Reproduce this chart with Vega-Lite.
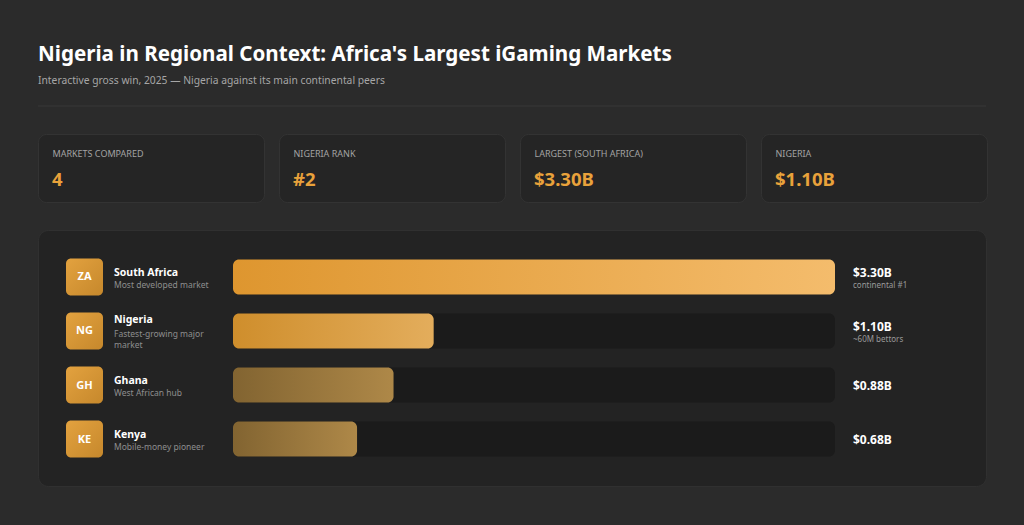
{
  "$schema": "https://vega.github.io/schema/vega-lite/v6.json",
  "background": "#2b2b2b",
  "padding": {"left": 37, "right": 38, "top": 45, "bottom": 38},
  "title": {
    "text": "Nigeria in Regional Context: Africa's Largest iGaming Markets",
    "subtitle": "Interactive gross win, 2025 — Nigeria against its main continental peers",
    "anchor": "start",
    "frame": "group",
    "font": "Noto Sans",
    "fontSize": 20.6,
    "fontWeight": "bold",
    "color": "#ffffff",
    "subtitleFont": "Noto Sans",
    "subtitleFontSize": 10.3,
    "subtitleColor": "#a6a6a6",
    "subtitlePadding": 10,
    "offset": 19
  },
  "config": {
    "view": {"stroke": null},
    "text": {"font": "Noto Sans"}
  },
  "datasets": {
    "kpis": [
      {"order": 1, "metric": "MARKETS COMPARED", "value": "4"},
      {"order": 2, "metric": "NIGERIA RANK", "value": "#2"},
      {"order": 3, "metric": "LARGEST (SOUTH AFRICA)", "value": "$3.30B"},
      {"order": 4, "metric": "NIGERIA", "value": "$1.10B"}
    ],
    "markets": [
      {"code": "ZA", "country": "South Africa", "desc": "Most developed market", "value": 3.30, "label": "$3.30B", "note": "continental #1"},
      {"code": "NG", "country": "Nigeria", "desc": "Fastest-growing major\nmarket", "value": 1.10, "label": "$1.10B", "note": "~60M bettors"},
      {"code": "GH", "country": "Ghana", "desc": "West African hub", "value": 0.88, "label": "$0.88B", "note": ""},
      {"code": "KE", "country": "Kenya", "desc": "Mobile-money pioneer", "value": 0.68, "label": "$0.68B", "note": ""}
    ]
  },
  "spacing": 26,
  "vconcat": [
    {
      "width": 948,
      "height": 1,
      "data": {"values": [{"v": 0}]},
      "mark": {"type": "rule", "color": "#393939", "strokeWidth": 1},
      "encoding": {
        "y": {"field": "v", "type": "quantitative", "scale": {"domain": [0, 1]}, "axis": null}
      }
    },
    {
      "spacing": 13,
      "hconcat": [
        {
          "data": {"name": "kpis"},
          "transform": [{"filter": "datum.order === 1"}],
          "width": 226, "height": 68,
          "view": {"fill": "#252525", "stroke": "#333333", "cornerRadius": 8},
          "layer": [
            {"mark": {"type": "text", "align": "left", "baseline": "alphabetic", "dx": -98.5, "dy": -11, "fontSize": 9, "color": "#a3a3a3"}, "encoding": {"text": {"field": "metric", "type": "nominal"}}},
            {"mark": {"type": "text", "align": "left", "baseline": "alphabetic", "dx": -99, "dy": 17.5, "fontSize": 18.5, "fontWeight": "bold", "color": "#e9a23b"}, "encoding": {"text": {"field": "value", "type": "nominal"}}}
          ]
        },
        {
          "data": {"name": "kpis"},
          "transform": [{"filter": "datum.order === 2"}],
          "width": 226, "height": 68,
          "view": {"fill": "#252525", "stroke": "#333333", "cornerRadius": 8},
          "layer": [
            {"mark": {"type": "text", "align": "left", "baseline": "alphabetic", "dx": -98.5, "dy": -11, "fontSize": 9, "color": "#a3a3a3"}, "encoding": {"text": {"field": "metric", "type": "nominal"}}},
            {"mark": {"type": "text", "align": "left", "baseline": "alphabetic", "dx": -99, "dy": 17.5, "fontSize": 18.5, "fontWeight": "bold", "color": "#e9a23b"}, "encoding": {"text": {"field": "value", "type": "nominal"}}}
          ]
        },
        {
          "data": {"name": "kpis"},
          "transform": [{"filter": "datum.order === 3"}],
          "width": 226, "height": 68,
          "view": {"fill": "#252525", "stroke": "#333333", "cornerRadius": 8},
          "layer": [
            {"mark": {"type": "text", "align": "left", "baseline": "alphabetic", "dx": -98.5, "dy": -11, "fontSize": 9, "color": "#a3a3a3"}, "encoding": {"text": {"field": "metric", "type": "nominal"}}},
            {"mark": {"type": "text", "align": "left", "baseline": "alphabetic", "dx": -99, "dy": 17.5, "fontSize": 18.5, "fontWeight": "bold", "color": "#e9a23b"}, "encoding": {"text": {"field": "value", "type": "nominal"}}}
          ]
        },
        {
          "data": {"name": "kpis"},
          "transform": [{"filter": "datum.order === 4"}],
          "width": 226, "height": 68,
          "view": {"fill": "#252525", "stroke": "#333333", "cornerRadius": 8},
          "layer": [
            {"mark": {"type": "text", "align": "left", "baseline": "alphabetic", "dx": -98.5, "dy": -11, "fontSize": 9, "color": "#a3a3a3"}, "encoding": {"text": {"field": "metric", "type": "nominal"}}},
            {"mark": {"type": "text", "align": "left", "baseline": "alphabetic", "dx": -99, "dy": 17.5, "fontSize": 18.5, "fontWeight": "bold", "color": "#e9a23b"}, "encoding": {"text": {"field": "value", "type": "nominal"}}}
          ]
        }
      ]
    },
    {
      "data": {"name": "markets"},
      "width": 948,
      "height": 256,
      "view": {"fill": "#232323", "stroke": "#303030", "cornerRadius": 10},
      "layer": [
        {
          "mark": {"type": "bar", "color": "#1b1b1b", "cornerRadius": 6},
          "encoding": {
            "y": {"field": "country", "type": "nominal", "sort": null, "axis": null, "scale": {"paddingInner": 0.352, "paddingOuter": 0.546}},
            "x": {"datum": 0, "type": "quantitative", "scale": {"domain": [-1.06894, 4.12774], "nice": false, "zero": false}, "axis": null},
            "x2": {"datum": 3.3}
          }
        },
        {
          "transform": [{"filter": "datum.code === 'ZA'"}],
          "mark": {"type": "bar", "cornerRadius": 6, "color": {"gradient": "linear", "x1": 0, "y1": 0, "x2": 1, "y2": 0, "stops": [{"offset": 0, "color": "#de962f"}, {"offset": 1, "color": "#f4bc6c"}]}},
          "encoding": {
            "y": {"field": "country", "type": "nominal", "sort": null},
            "x": {"field": "value", "type": "quantitative"},
            "x2": {"datum": 0}
          }
        },
        {
          "transform": [{"filter": "datum.code === 'NG'"}],
          "mark": {"type": "bar", "cornerRadius": 6, "color": {"gradient": "linear", "x1": 0, "y1": 0, "x2": 1, "y2": 0, "stops": [{"offset": 0, "color": "#cf8e2c"}, {"offset": 1, "color": "#e3ad5c"}]}},
          "encoding": {
            "y": {"field": "country", "type": "nominal", "sort": null},
            "x": {"field": "value", "type": "quantitative"},
            "x2": {"datum": 0}
          }
        },
        {
          "transform": [{"filter": "datum.code === 'GH' || datum.code === 'KE'"}],
          "mark": {"type": "bar", "cornerRadius": 6, "color": {"gradient": "linear", "x1": 0, "y1": 0, "x2": 1, "y2": 0, "stops": [{"offset": 0, "color": "#826431"}, {"offset": 1, "color": "#ae8848"}]}},
          "encoding": {
            "y": {"field": "country", "type": "nominal", "sort": null},
            "x": {"field": "value", "type": "quantitative"},
            "x2": {"datum": 0}
          }
        },
        {
          "mark": {"type": "bar", "cornerRadius": 5, "height": 37, "xOffset": -167, "x2Offset": -130, "color": {"gradient": "linear", "x1": 0, "y1": 0, "x2": 1, "y2": 1, "stops": [{"offset": 0, "color": "#e3a23f"}, {"offset": 1, "color": "#c6882c"}]}},
          "encoding": {
            "y": {"field": "country", "type": "nominal", "sort": null},
            "x": {"datum": 0, "type": "quantitative"},
            "x2": {"datum": 0}
          }
        },
        {
          "mark": {"type": "text", "align": "center", "baseline": "middle", "dx": -148.5, "dy": 0.5, "fontSize": 11, "fontWeight": "bold", "color": "#ffffff"},
          "encoding": {
            "y": {"field": "country", "type": "nominal", "sort": null},
            "x": {"datum": 0, "type": "quantitative"},
            "text": {"field": "code", "type": "nominal"}
          }
        },
        {
          "transform": [{"filter": "datum.code !== 'NG'"}],
          "mark": {"type": "text", "align": "left", "baseline": "alphabetic", "dx": -119, "dy": -1, "fontSize": 10.5, "fontWeight": "bold", "color": "#ffffff"},
          "encoding": {
            "y": {"field": "country", "type": "nominal", "sort": null},
            "x": {"datum": 0, "type": "quantitative"},
            "text": {"field": "country", "type": "nominal"}
          }
        },
        {
          "transform": [{"filter": "datum.code !== 'NG'"}],
          "mark": {"type": "text", "align": "left", "baseline": "alphabetic", "dx": -119, "dy": 11, "fontSize": 8.5, "color": "#8e8e8e"},
          "encoding": {
            "y": {"field": "country", "type": "nominal", "sort": null},
            "x": {"datum": 0, "type": "quantitative"},
            "text": {"field": "desc", "type": "nominal"}
          }
        },
        {
          "transform": [{"filter": "datum.code === 'NG'"}],
          "mark": {"type": "text", "align": "left", "baseline": "alphabetic", "dx": -119, "dy": -8, "fontSize": 10.5, "fontWeight": "bold", "color": "#ffffff"},
          "encoding": {
            "y": {"field": "country", "type": "nominal", "sort": null},
            "x": {"datum": 0, "type": "quantitative"},
            "text": {"field": "country", "type": "nominal"}
          }
        },
        {
          "transform": [{"filter": "datum.code === 'NG'"}],
          "mark": {"type": "text", "align": "left", "baseline": "alphabetic", "dx": -119, "dy": 6, "fontSize": 8.5, "lineHeight": 11, "lineBreak": "\n", "color": "#8e8e8e"},
          "encoding": {
            "y": {"field": "country", "type": "nominal", "sort": null},
            "x": {"datum": 0, "type": "quantitative"},
            "text": {"field": "desc", "type": "nominal"}
          }
        },
        {
          "transform": [{"filter": "datum.note !== ''"}],
          "mark": {"type": "text", "align": "left", "baseline": "alphabetic", "dx": 18, "dy": 0, "fontSize": 12, "fontWeight": "bold", "color": "#ffffff"},
          "encoding": {
            "y": {"field": "country", "type": "nominal", "sort": null},
            "x": {"datum": 3.3, "type": "quantitative"},
            "text": {"field": "label", "type": "nominal"}
          }
        },
        {
          "transform": [{"filter": "datum.note !== ''"}],
          "mark": {"type": "text", "align": "left", "baseline": "alphabetic", "dx": 18, "dy": 11, "fontSize": 8, "color": "#9a9a9a"},
          "encoding": {
            "y": {"field": "country", "type": "nominal", "sort": null},
            "x": {"datum": 3.3, "type": "quantitative"},
            "text": {"field": "note", "type": "nominal"}
          }
        },
        {
          "transform": [{"filter": "datum.note === ''"}],
          "mark": {"type": "text", "align": "left", "baseline": "alphabetic", "dx": 18, "dy": 5, "fontSize": 12, "fontWeight": "bold", "color": "#ffffff"},
          "encoding": {
            "y": {"field": "country", "type": "nominal", "sort": null},
            "x": {"datum": 3.3, "type": "quantitative"},
            "text": {"field": "label", "type": "nominal"}
          }
        }
      ]
    }
  ]
}
